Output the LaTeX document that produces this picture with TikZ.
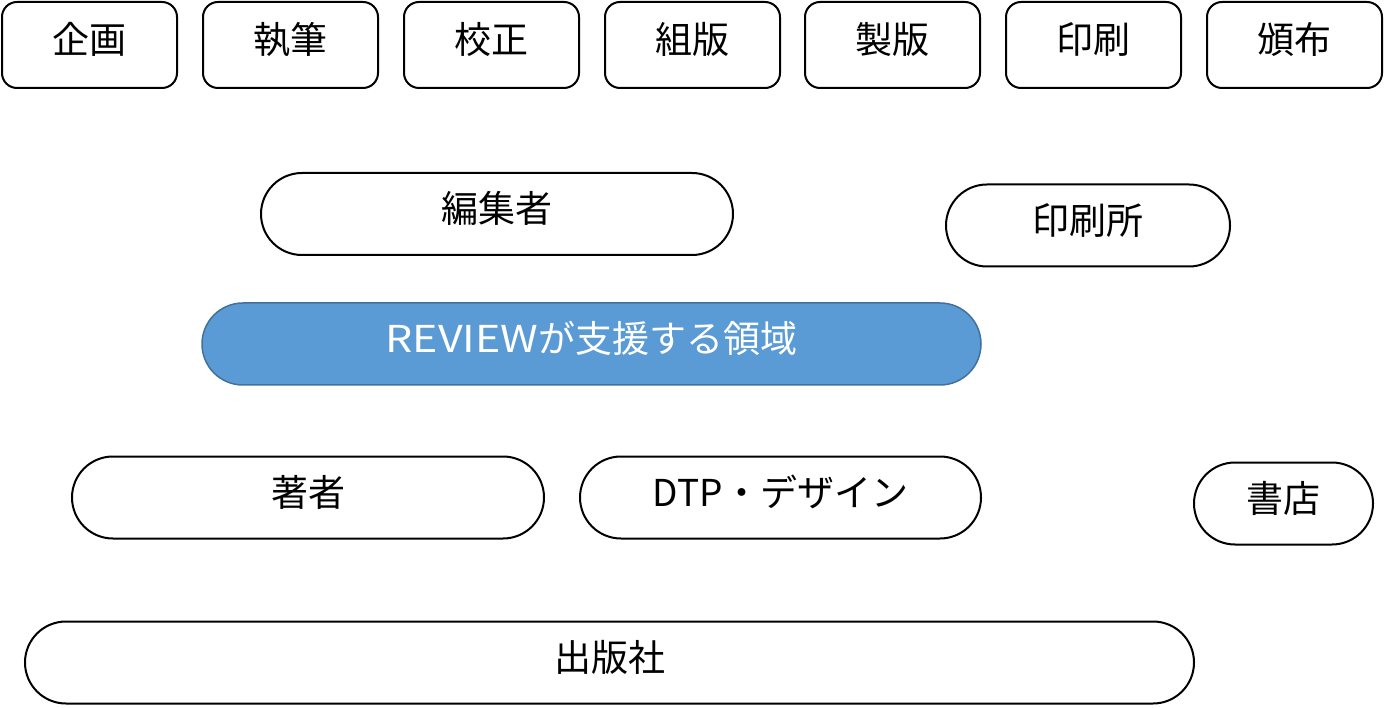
\documentclass[tikz,border=0pt]{standalone}
\usepackage{fontspec}
\setmainfont{Noto Sans CJK JP}
\newfontfamily\widelatin[FakeStretch=1.16]{Noto Sans CJK JP}
\begin{document}
\begin{tikzpicture}[x=1pt,y=-1pt,
  every node/.style={font=\fontsize{37}{42}\selectfont, inner sep=0pt, outer sep=0pt, text height=26pt, text depth=8pt},
  stage/.style={draw=black, line width=2pt, rounded corners=15pt, minimum width=175pt, minimum height=86pt},
  pill/.style={draw=black, line width=2pt, rounded corners=41pt, minimum height=82pt},
  hl/.style={pill, draw=hlborder, line width=1.5pt, fill=hlfill, text=white}]
\definecolor{hlfill}{HTML}{5B9BD5}
\definecolor{hlborder}{HTML}{41719C}
\useasboundingbox (0,0) rectangle (1384,708);
\node[stage] (kikaku)  at (89.5,45)   {企画};
\node[stage] (shippitsu) at (290.5,45) {執筆};
\node[stage] (kousei)  at (491.5,45)  {校正};
\node[stage] (kumihan) at (692.5,45)  {組版};
\node[stage] (seihan)  at (892.5,45)  {製版};
\node[stage] (insatsu) at (1093.5,45) {印刷};
\node[stage] (hanpu)   at (1294.5,45) {頒布};
\node[pill, minimum width=472pt] (henshu) at (497,214) {編集者};
\node[pill, minimum width=284pt] (insatsujo) at (1088,225.5) {印刷所};
\node[hl, minimum width=779pt] (review) at (591.5,344) {{\widelatin REVIEW}が支援する領域};
\node[pill, minimum width=472pt] (chosha) at (308,497.5) {著者};
\node[pill, minimum width=401pt] (dtp) at (780.5,497.5) {DTP・デザイン};
\node[pill, minimum width=179pt] (shoten) at (1283.5,503.5) {書店};
\node[pill, minimum width=1169pt] (shuppan) at (609.5,662.5) {出版社};
\end{tikzpicture}
\end{document}
